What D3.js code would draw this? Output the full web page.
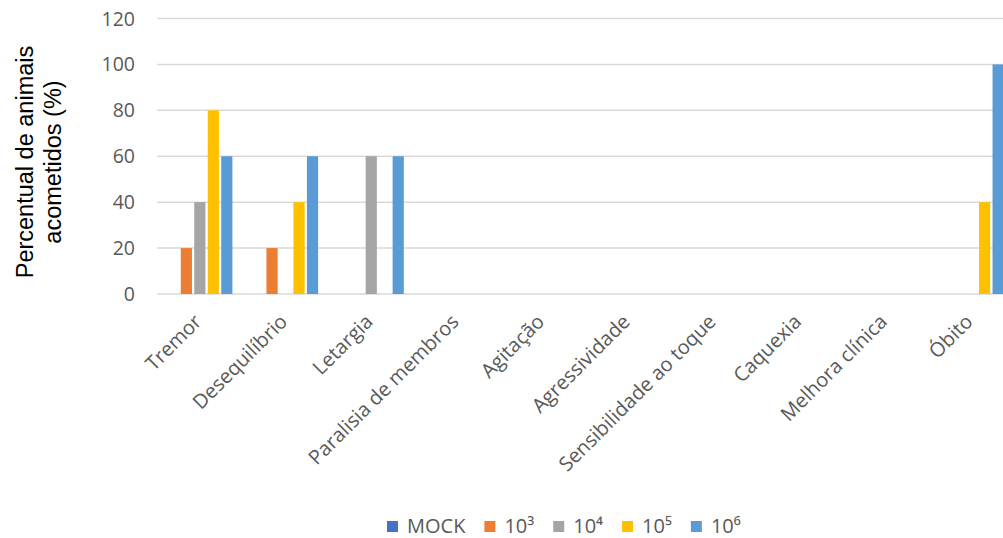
<!DOCTYPE html>
<html>
<head>
<meta charset="utf-8">
<script src="https://cdn.jsdelivr.net/npm/d3@7"></script>
<style>
  html, body { margin: 0; padding: 0; background: #fff; }
  svg { display: block; }
</style>
</head>
<body>
<svg id="chart" width="1003" height="538"></svg>
<script>
const categories = ["Tremor", "Desequilíbrio", "Letargia", "Paralisia de membros", "Agitação",
  "Agressividade", "Sensibilidade ao toque", "Caquexia", "Melhora clínica", "Óbito"];
const seriesNames = ["MOCK", "10³", "10⁴", "10⁵", "10⁶"];
const seriesColors = ["#4472C4", "#ED7D31", "#A5A5A5", "#FFC000", "#5B9BD5"];
const valuesMOCK = [0, 0, 0, 0, 0, 0, 0, 0, 0, 0];
const values1e3  = [20, 20, 0, 0, 0, 0, 0, 0, 0, 0];
const values1e4  = [40, 0, 60, 0, 0, 0, 0, 0, 0, 0];
const values1e5  = [80, 40, 0, 0, 0, 0, 0, 0, 0, 40];
const values1e6  = [60, 60, 60, 0, 0, 0, 0, 0, 0, 100];
const yTicks = [0, 20, 40, 60, 80, 100, 120];
const yTitle = ["Percentual de animais", "acometidos (%)"];

const seriesValues = [valuesMOCK, values1e3, values1e4, values1e5, values1e6];

const W = 1003, H = 538;
const svg = d3.select("#chart");
const tickFont = "'Open Sans', sans-serif";

const x = d3.scaleBand().domain(categories).range([157, 1014]).paddingInner(0.24).paddingOuter(0.12);
const xs = d3.scaleBand().domain(seriesNames).range([0, x.bandwidth()]).paddingInner(0.17);
const y = d3.scaleLinear().domain([0, 120]).range([294, 18.5]);

svg.append("defs").append("clipPath").attr("id", "clip")
  .append("rect").attr("x", 0).attr("y", 0).attr("width", W).attr("height", H);

// gridlines
const grid = svg.append("g").attr("clip-path", "url(#clip)");
grid.selectAll("line").data(yTicks).join("line")
  .attr("x1", x.range()[0]).attr("x2", x.range()[1])
  .attr("y1", d => y(d)).attr("y2", d => y(d))
  .attr("stroke", "#D9D9D9").attr("stroke-width", 1.5);

// y tick labels
svg.append("g").selectAll("text").data(yTicks).join("text")
  .attr("x", 135).attr("y", d => y(d)).attr("dy", "0.36em")
  .attr("text-anchor", "end")
  .attr("font-family", tickFont).attr("font-size", 19.5).attr("fill", "#595959")
  .text(d => d);

// bars
const rows = categories.map((c, i) => ({ c, vals: seriesNames.map((s, j) => ({ s, j, v: seriesValues[j][i] })) }));
const groups = svg.append("g").attr("clip-path", "url(#clip)")
  .selectAll("g").data(rows).join("g")
  .attr("transform", d => `translate(${x(d.c)},0)`);
groups.selectAll("rect").data(d => d.vals.filter(e => e.v > 0)).join("rect")
  .attr("x", d => xs(d.s)).attr("width", xs.bandwidth())
  .attr("y", d => y(d.v)).attr("height", d => y(0) - y(d.v))
  .attr("fill", d => seriesColors[d.j]);

// x labels
svg.append("g").selectAll("text").data(categories).join("text")
  .attr("transform", d => `translate(${x(d) + x.bandwidth() / 2 - 2},${318}) rotate(-45)`)
  .attr("text-anchor", "end").attr("dy", "0.35em")
  .attr("font-family", tickFont).attr("font-size", 20).attr("fill", "#595959")
  .text(d => d);

// y title
const yt = svg.append("text")
  .attr("transform", "translate(0,162) rotate(-90)")
  .attr("text-anchor", "middle")
  .attr("font-family", "'Liberation Sans', Arial, sans-serif").attr("font-size", 23.5).attr("fill", "#000");
yt.selectAll("tspan").data(yTitle).join("tspan")
  .attr("x", 0).attr("y", (d, i) => 33 + i * 28)
  .text(d => d);

// legend
const legend = svg.append("g");
const items = legend.selectAll("g").data(seriesNames).join("g");
items.append("rect").attr("width", 11).attr("height", 11).attr("y", 521)
  .attr("fill", (d, i) => seriesColors[i]);
items.append("text").attr("x", 20).attr("y", 533)
  .attr("font-family", tickFont).attr("font-size", 20).attr("fill", "#595959")
  .text(d => d);
let cursor = 387;
const offsets = [];
items.each(function () {
  offsets.push(cursor);
  const w = d3.select(this).select("text").node().getComputedTextLength();
  cursor += 20 + w + 19;
});
items.attr("transform", (d, i) => `translate(${offsets[i]},0)`);
</script>
</body>
</html>
